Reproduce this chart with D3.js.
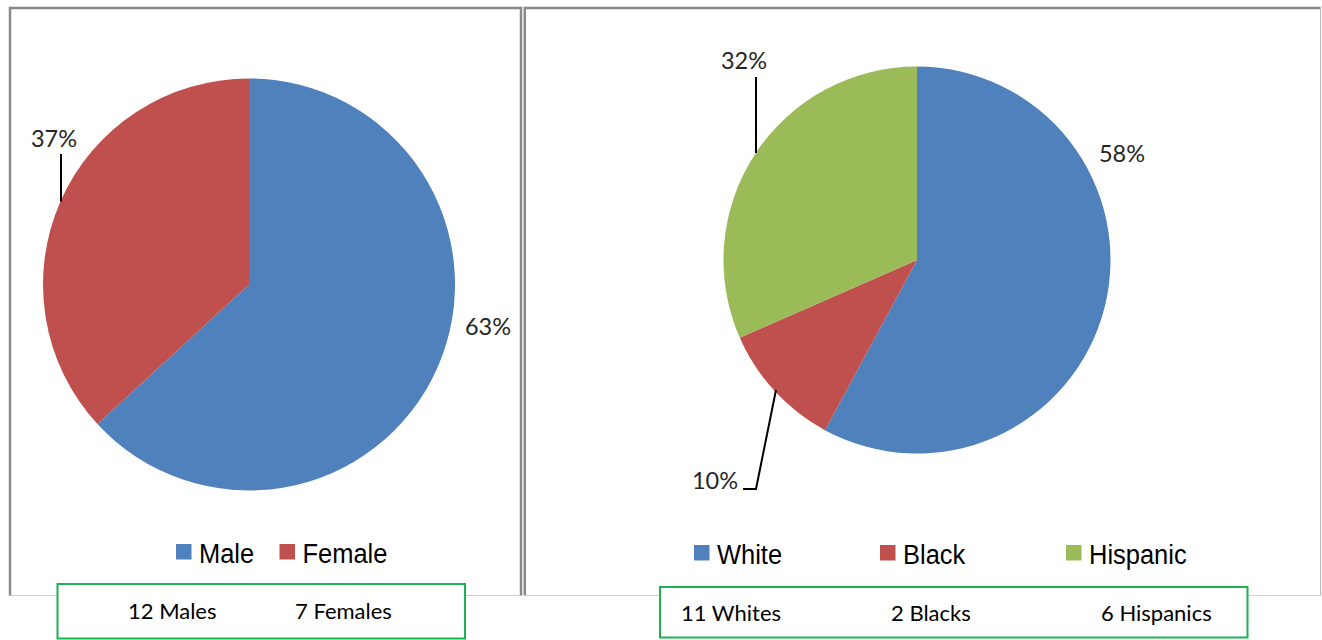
<!DOCTYPE html>
<html>
<head>
<meta charset="utf-8">
<script src="https://cdn.jsdelivr.net/npm/d3@7"></script>
<style>
  html, body { margin: 0; padding: 0; background: #ffffff; }
  svg { display: block; }
</style>
</head>
<body>
<svg id="chart" width="1322" height="640"></svg>
<script>
// ---- data ----
const genderCategories = ["Male", "Female"];
const genderCounts = [12, 7];
const genderPctLabels = ["63%", "37%"];
const genderSummary = ["12 Males", "7 Females"];

const raceCategories = ["White", "Black", "Hispanic"];
const raceCounts = [11, 2, 6];
const racePctLabels = ["58%", "10%", "32%"];
const raceSummary = ["11 Whites", "2 Blacks", "6 Hispanics"];

const sliceColors = ["#4F81BD", "#C0504D", "#9BBB59"];

// ---- drawing ----
const svg = d3.select("#chart");

// panel frames
function panel(x0, x1, y0, y1, rightColor) {
  const g = svg.append("g");
  g.append("line").attr("x1", x0).attr("x2", x1).attr("y1", y1).attr("y2", y1)
    .attr("stroke", "#cfcfcf").attr("stroke-width", 1.2);
  g.append("line").attr("x1", x0).attr("x2", x1).attr("y1", y0).attr("y2", y0)
    .attr("stroke", "#8a8a8a").attr("stroke-width", 2.5);
  g.append("line").attr("x1", x0).attr("x2", x0).attr("y1", y0 - 1.2).attr("y2", y1)
    .attr("stroke", "#8a8a8a").attr("stroke-width", 2.5);
  g.append("line").attr("x1", x1).attr("x2", x1).attr("y1", y0 - 1.2).attr("y2", y1)
    .attr("stroke", rightColor.c).attr("stroke-width", rightColor.w);
}
panel(10, 521, 8, 595.5, { c: "#8a8a8a", w: 2.5 });
panel(524.8, 1320.6, 8, 595.5, { c: "#bdbdbd", w: 1.2 });

const pie = d3.pie().sort(null).value(d => d);

function drawPie(cfg) {
  const arcs = pie(cfg.values);
  const arc = d3.arc().innerRadius(0).outerRadius(cfg.r);
  const g = svg.append("g").attr("transform", `translate(${cfg.cx},${cfg.cy})`);
  g.selectAll("path.slice").data(arcs).join("path")
    .attr("class", "slice")
    .attr("d", arc)
    .attr("fill", (d, i) => sliceColors[i]);

  // leader lines
  cfg.leaders.forEach(pts => {
    g.append("path")
      .attr("d", d3.line()(pts))
      .attr("fill", "none")
      .attr("stroke", "#000")
      .attr("stroke-width", 2);
  });

  g.selectAll("text.pct").data(cfg.labels).join("text")
    .attr("class", "pct")
    .attr("x", (d, i) => cfg.labelPos[i][0])
    .attr("y", (d, i) => cfg.labelPos[i][1])
    .attr("text-anchor", "middle")
    .attr("font-family", "Lato, 'Open Sans', sans-serif")
    .attr("font-size", 23.5)
    .attr("fill", "#262626")
    .text(d => d);
}

drawPie({
  cx: 249, cy: 284.5, r: 206,
  values: genderCounts,
  labels: genderPctLabels,
  labelPos: [[239, 50.5], [-195, -137.5]],
  leaders: [[[-188, -130.5], [-188, -83]]]
});

drawPie({
  cx: 917, cy: 260, r: 193.5,
  values: raceCounts,
  labels: racePctLabels,
  labelPos: [[205, -98], [-202, 229], [-173, -191]],
  leaders: [
    [[-174, 229], [-161, 229], [-141, 130]],
    [[-161, -183], [-161, -107]]
  ]
});

// legends
function legend(cats, x0, x1, yBase) {
  const xs = d3.scalePoint().domain(cats).range([x0, x1]);
  const g = svg.append("g");
  const items = g.selectAll("g.item").data(cats).join("g")
    .attr("class", "item")
    .attr("transform", d => `translate(${xs(d)},${yBase})`);
  items.append("rect")
    .attr("x", 0).attr("y", -19).attr("width", 15.5).attr("height", 15.5)
    .attr("fill", (d, i) => sliceColors[i]);
  items.append("text")
    .attr("transform", "translate(23,0) scale(0.91,1)")
    .attr("font-family", "'Liberation Sans', Arial, sans-serif")
    .attr("font-size", 28)
    .attr("fill", "#000")
    .text(d => d);
}
legend(genderCategories, 176, 279.5, 563);
legend(raceCategories, 694, 1066, 564);

// summary boxes
function summaryBox(texts, bx0, bx1, by0, by1, tx0, tx1, tyBase) {
  const g = svg.append("g");
  g.append("rect")
    .attr("x", bx0).attr("y", by0).attr("width", bx1 - bx0).attr("height", by1 - by0)
    .attr("fill", "#fff").attr("stroke", "#1DB054").attr("stroke-width", 2);
  const xs = d3.scalePoint().domain(texts).range([tx0, tx1]);
  g.selectAll("text").data(texts).join("text")
    .attr("x", d => xs(d)).attr("y", tyBase)
    .attr("font-family", "Lato, 'Open Sans', sans-serif")
    .attr("font-size", 22)
    .attr("fill", "#000")
    .text(d => d);
}
summaryBox(genderSummary, 57.5, 465, 584, 638.5, 128, 295, 619);
summaryBox(raceSummary, 660, 1247.5, 587, 637.5, 681, 1101, 621);
</script>
</body>
</html>
